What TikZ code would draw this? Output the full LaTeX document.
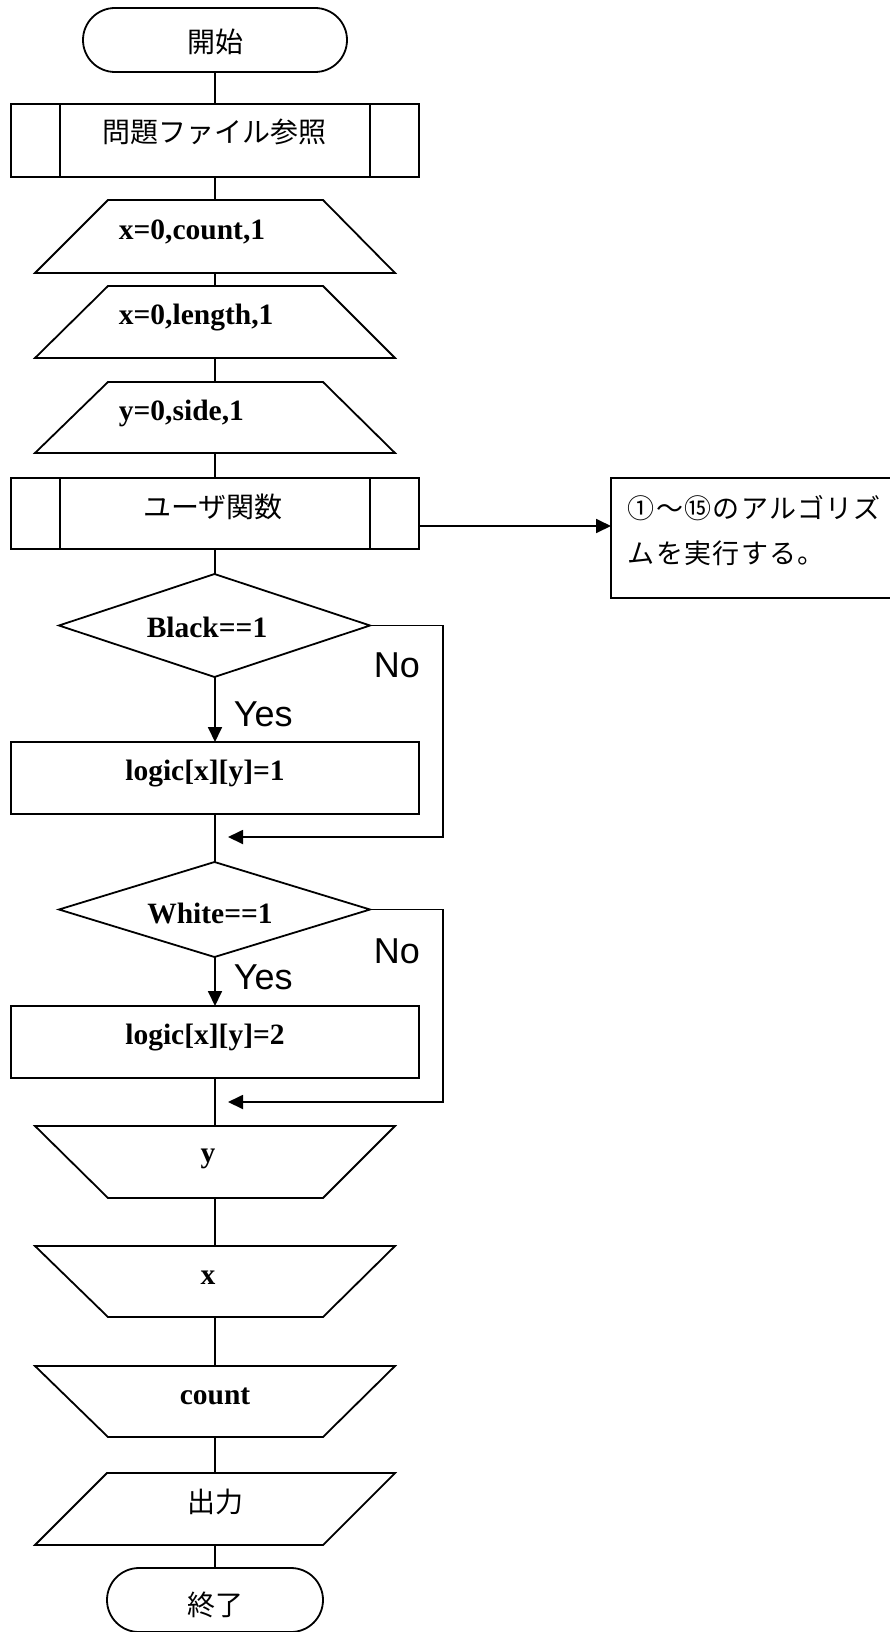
\documentclass[tikz,border=0pt]{standalone}
\usepackage{fontspec}
\setmainfont{Liberation Serif}
\newfontfamily\jp{Noto Sans CJK JP}
\newfontfamily\jpnote[LetterSpace=5]{Noto Sans CJK JP}
\newfontfamily\gothic{Liberation Sans}
\usetikzlibrary{arrows.meta,calc}
\tikzset{
  frame/.style={draw=none, inner sep=0pt, outer sep=0pt, rectangle},
  latin/.style={inner sep=0pt, anchor=base, font=\bfseries\fontsize{29.5pt}{34pt}\selectfont},
  kanji/.style={inner sep=0pt, anchor=base, font=\jp\fontsize{28pt}{34pt}\selectfont},
  notetext/.style={inner sep=0pt, anchor=base west, font=\jpnote\fontsize{27pt}{34pt}\selectfont},
  branch/.style={inner sep=0pt, anchor=base west, font=\gothic\fontsize{36pt}{40pt}\selectfont},
  arr/.style={-{Triangle[length=15pt,width=14pt]}},
}
\begin{document}
\begin{tikzpicture}[x=1pt, y=-1pt, line width=1.8pt, line join=miter]
\useasboundingbox (0,0) rectangle (889,1632);

% ---- outline frames of the flowchart symbols
\node[frame, minimum width=264pt, minimum height=64pt] (start) at (215,40) {};
\node[frame, minimum width=408pt, minimum height=73pt] (p1) at (215,140.5) {};
\node[frame, minimum width=360pt, minimum height=73pt] (t1) at (215,236.5) {};
\node[frame, minimum width=360pt, minimum height=72pt] (t2) at (215,322) {};
\node[frame, minimum width=360pt, minimum height=71pt] (t3) at (215,417.5) {};
\node[frame, minimum width=408pt, minimum height=71pt] (p2) at (215,513.5) {};
\node[frame, minimum width=282pt, minimum height=120pt] (note) at (752,538) {};
\node[frame, minimum width=311pt, minimum height=103pt] (d1) at (214.5,625.5) {};
\node[frame, minimum width=408pt, minimum height=72pt] (b1) at (215,778) {};
\node[frame, minimum width=311pt, minimum height=95pt] (d2) at (214.5,909.5) {};
\node[frame, minimum width=408pt, minimum height=72pt] (b2) at (215,1042) {};
\node[frame, minimum width=360pt, minimum height=72pt] (e1) at (215,1162) {};
\node[frame, minimum width=360pt, minimum height=71pt] (e2) at (215,1281.5) {};
\node[frame, minimum width=360pt, minimum height=71pt] (e3) at (215,1401.5) {};
\node[frame, minimum width=360pt, minimum height=72pt] (out) at (215,1509) {};
\node[frame, minimum width=216pt, minimum height=64pt] (end) at (215,1600) {};
\coordinate (m1) at (228,837);
\coordinate (m2) at (228,1102);

% terminals
\draw[rounded corners=32pt] (start.south west) rectangle (start.north east);
\draw[rounded corners=32pt] (end.south west) rectangle (end.north east);

% predefined processes
\foreach \p in {p1,p2}{
  \draw (\p.north west) rectangle (\p.south east);
  \draw ([xshift=49pt]\p.north west) -- ([xshift=49pt]\p.south west);
  \draw ([xshift=-49pt]\p.north east) -- ([xshift=-49pt]\p.south east);
}

% loop starts
\foreach \t in {t1,t2,t3}{
  \draw (\t.south west) -- ([xshift=73pt]\t.north west) -- ([xshift=-72pt]\t.north east) -- (\t.south east) -- cycle;
}
% loop ends
\foreach \t in {e1,e2,e3}{
  \draw (\t.north west) -- (\t.north east) -- ([xshift=-72pt]\t.south east) -- ([xshift=73pt]\t.south west) -- cycle;
}

% decisions
\foreach \d in {d1,d2}{
  \draw (\d.west) -- (\d.north) -- (\d.east) -- (\d.south) -- cycle;
}

% processes
\draw (b1.north west) rectangle (b1.south east);
\draw (b2.north west) rectangle (b2.south east);

% output
\draw (out.south west) -- ([xshift=72pt]out.north west) -- (out.north east) -- ([xshift=-72pt]out.south east) -- cycle;

% comment box, open towards the right
\draw ([xshift=10pt]note.north east) -- (note.north west) -- (note.south west) -- ([xshift=10pt]note.south east);

% ---- connectors
\draw (start.south) -- (p1.north);
\draw (p1.south) -- (t1.north);
\draw (t1.south) -- (t2.north);
\draw (t2.south) -- (t3.north);
\draw (t3.south) -- (p2.north);
\draw (p2.south) -- (d1.north -| p2.south);
\draw[arr] ([yshift=-12.5pt]p2.east) -- ([yshift=-12.5pt]p2.east -| note.west);
\draw[arr] (d1.south -| b1.north) -- (b1.north);
\draw[arr] (d1.east) -- ++(73,0) |- (m1);
\draw (b1.south) -- (d2.north -| b1.south);
\draw[arr] (d2.south -| b2.north) -- (b2.north);
\draw[arr] (d2.east) -- ++(73,0) |- (m2);
\draw (b2.south) -- (e1.north);
\draw (e1.south) -- (e2.north);
\draw (e2.south) -- (e3.north);
\draw (e3.south) -- (out.north);
\draw (out.south) -- (end.north);

% ---- texts
\node[kanji] (start-txt) at (215,53) {開始};
\node[kanji] (p1-txt) at (214,143) {問題ファイル参照};
\node[latin, anchor=base west] (t1-txt) at (118,239) {x=0,count,1};
\node[latin, anchor=base west] (t2-txt) at (118,324) {x=0,length,1};
\node[latin, anchor=base west] (t3-txt) at (118,420) {y=0,side,1};
\node[kanji] (p2-txt) at (213,517) {ユーザ関数};
\node[notetext] (note-l1) at (627,518) {①～⑮のアルゴリズ};
\node[notetext] (note-l2) at (627,563) {ムを実行する。};
\node[latin] (d1-txt) at (207,637) {Black==1};
\node[branch] (yes1) at (233,726) {Yes};
\node[branch] (no1) at (373,677) {No};
\node[latin] (b1-txt) at (205,780) {logic[x][y]=1};
\node[latin] (d2-txt) at (210,923) {White==1};
\node[branch] (yes2) at (233,989) {Yes};
\node[branch] (no2) at (373,963) {No};
\node[latin] (b2-txt) at (205,1044) {logic[x][y]=2};
\node[latin] (e1-txt) at (208,1162) {y};
\node[latin] (e2-txt) at (208,1284) {x};
\node[latin] (e3-txt) at (215,1404) {count};
\node[kanji] (out-txt) at (215,1512) {出力};
\node[kanji] (end-txt) at (215,1615) {終了};
\end{tikzpicture}
\end{document}
